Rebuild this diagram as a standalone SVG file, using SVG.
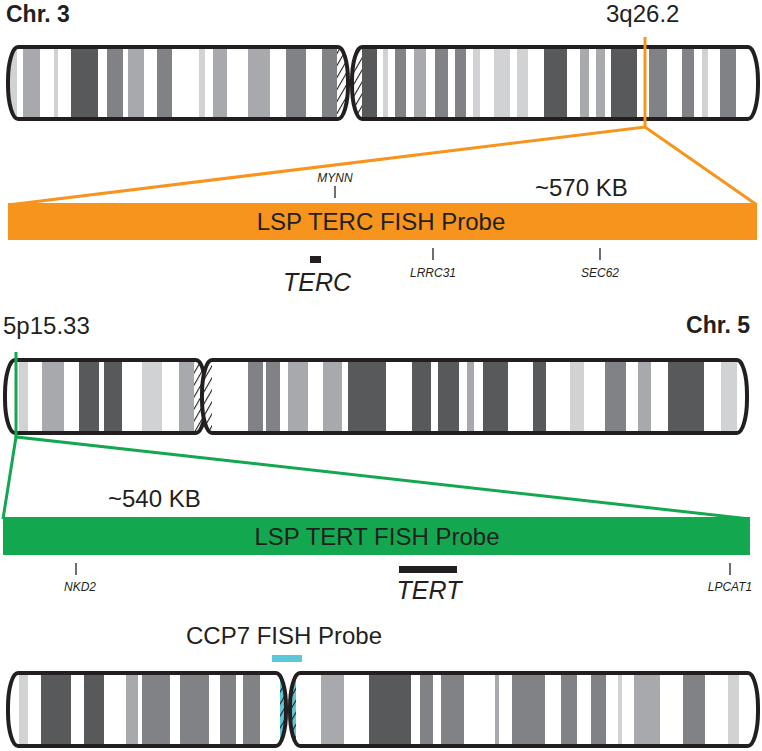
<svg xmlns="http://www.w3.org/2000/svg" width="762" height="751" viewBox="0 0 762 751">
<style>
text{font-family:"Liberation Sans",Arial,sans-serif;fill:#231f20}
.b{font-weight:bold;font-size:23px}
.g{font-size:24px}
.s{font-size:12px;font-style:italic;text-anchor:middle}
.gene{font-size:25px;font-style:italic;text-anchor:middle}
.l{fill:#d1d2d4}.m{fill:#a7a9ac}.d{fill:#808285}.k{fill:#58595b}
.arm{fill:none;stroke:#231f20;stroke-width:4}
.tick{stroke:#231f20;stroke-width:1.3}
</style>
<defs>
<pattern id="hatch" width="6" height="6" patternUnits="userSpaceOnUse" patternTransform="rotate(30)">
<rect width="6" height="6" fill="#fff"/><line x1="0" y1="0" x2="0" y2="6" stroke="#231f20" stroke-width="2.2"/>
</pattern>
<pattern id="hatchc" width="6" height="6" patternUnits="userSpaceOnUse" patternTransform="rotate(30)">
<rect width="6" height="6" fill="#5bc8d8"/><line x1="0" y1="0" x2="0" y2="6" stroke="#231f20" stroke-width="2.2"/>
</pattern>
<clipPath id="c3p"><rect x="8" y="47" width="340" height="72" rx="10" ry="34"/></clipPath>
<clipPath id="c3q"><rect x="352" y="47" width="406" height="72" rx="10" ry="34"/></clipPath>
<clipPath id="c5p"><rect x="5" y="360" width="201" height="73" rx="10" ry="34"/></clipPath>
<clipPath id="c5q"><rect x="202" y="360" width="545" height="73" rx="10" ry="34"/></clipPath>
<clipPath id="c7p"><rect x="8" y="673" width="278" height="73" rx="10" ry="34"/></clipPath>
<clipPath id="c7q"><rect x="290" y="673" width="468" height="73" rx="10" ry="34"/></clipPath>
</defs>

<g id="chr3">
<text class="b" x="6" y="22">Chr. 3</text>
<g clip-path="url(#c3p)">
<rect x="8" y="47" width="340" height="72" fill="#fff"/>
<rect class="l" x="10" y="47" width="7" height="72"/>
<rect class="m" x="23" y="47" width="17" height="72"/>
<rect class="l" x="54" y="47" width="4" height="72"/>
<rect class="k" x="71" y="47" width="27" height="72"/>
<rect class="d" x="107" y="47" width="16" height="72"/>
<rect class="m" x="128" y="47" width="16" height="72"/>
<rect class="d" x="157" y="47" width="15" height="72"/>
<rect class="l" x="199" y="47" width="6" height="72"/>
<rect class="m" x="213" y="47" width="14" height="72"/>
<rect class="m" x="248" y="47" width="22" height="72"/>
<rect class="d" x="286" y="47" width="20" height="72"/>
<rect class="d" x="322" y="47" width="15" height="72"/>
<rect x="337" y="47" width="12" height="72" fill="url(#hatch)"/>
</g>
<rect class="arm" x="8" y="47" width="340" height="72" rx="10" ry="34"/>
<g clip-path="url(#c3q)">
<rect x="352" y="47" width="406" height="72" fill="#fff"/>
<rect x="352" y="47" width="10" height="72" fill="url(#hatch)"/>
<rect class="k" x="362" y="47" width="15" height="72"/>
<rect class="l" x="383" y="47" width="5" height="72"/>
<rect class="d" x="395" y="47" width="11" height="72"/>
<rect class="m" x="414" y="47" width="12" height="72"/>
<rect class="d" x="435" y="47" width="13" height="72"/>
<rect class="d" x="455" y="47" width="11" height="72"/>
<rect class="l" x="473" y="47" width="7" height="72"/>
<rect class="l" x="494" y="47" width="16" height="72"/>
<rect class="l" x="517" y="47" width="11" height="72"/>
<rect class="k" x="544" y="47" width="23" height="72"/>
<rect class="m" x="580" y="47" width="9" height="72"/>
<rect class="m" x="596" y="47" width="9" height="72"/>
<rect class="k" x="611" y="47" width="26" height="72"/>
<rect class="d" x="649" y="47" width="18" height="72"/>
<rect class="d" x="682" y="47" width="12" height="72"/>
<rect class="l" x="702" y="47" width="6" height="72"/>
<rect class="d" x="720" y="47" width="16" height="72"/>
</g>
<rect class="arm" x="352" y="47" width="406" height="72" rx="10" ry="34"/>
</g>

<g id="terc-zoom">
<text class="g" x="606" y="22">3q26.2</text>
<polyline points="645,37 645,127" fill="none" stroke="#f7941d" stroke-width="3"/>
<polyline points="8,205 645,127 757,205" fill="none" stroke="#f7941d" stroke-width="3"/>
<rect x="8" y="203" width="749" height="37" fill="#f7941d"/>
<text class="g" x="381" y="230" text-anchor="middle">LSP TERC FISH Probe</text>
<text class="g" x="535" y="196">~570 KB</text>
<text class="s" x="335" y="182">MYNN</text>
<line class="tick" x1="335" y1="186" x2="335" y2="198"/>
<rect x="310" y="256" width="11" height="7" fill="#231f20"/>
<text class="gene" x="317" y="291">TERC</text>
<line class="tick" x1="433" y1="248" x2="433" y2="260"/>
<text class="s" x="433" y="277">LRRC31</text>
<line class="tick" x1="600" y1="248" x2="600" y2="260"/>
<text class="s" x="600" y="277">SEC62</text>
</g>

<g id="chr5">
<text class="b" x="750" y="333" text-anchor="end">Chr. 5</text>
<g clip-path="url(#c5p)">
<rect x="5" y="360" width="201" height="73" fill="#fff"/>
<rect class="l" x="19" y="360" width="9" height="73"/>
<rect class="m" x="42" y="360" width="22" height="73"/>
<rect class="k" x="79" y="360" width="20" height="73"/>
<rect class="k" x="104" y="360" width="18" height="73"/>
<rect class="l" x="142" y="360" width="20" height="73"/>
<rect class="m" x="179" y="360" width="15" height="73"/>
<rect x="194" y="360" width="12" height="73" fill="url(#hatch)"/>
</g>
<rect class="arm" x="5" y="360" width="201" height="73" rx="10" ry="34"/>
<g clip-path="url(#c5q)">
<rect x="202" y="360" width="545" height="73" fill="#fff"/>
<rect x="202" y="360" width="10" height="73" fill="url(#hatch)"/>
<rect class="d" x="248" y="360" width="15" height="73"/>
<rect class="d" x="266" y="360" width="14" height="73"/>
<rect class="m" x="288" y="360" width="20" height="73"/>
<rect class="m" x="323" y="360" width="19" height="73"/>
<rect class="k" x="348" y="360" width="38" height="73"/>
<rect class="k" x="412" y="360" width="19" height="73"/>
<rect class="k" x="438" y="360" width="21" height="73"/>
<rect class="m" x="467" y="360" width="7" height="73"/>
<rect class="k" x="483" y="360" width="25" height="73"/>
<rect class="k" x="533" y="360" width="13" height="73"/>
<rect class="l" x="570" y="360" width="14" height="73"/>
<rect class="d" x="605" y="360" width="21" height="73"/>
<rect class="m" x="638" y="360" width="13" height="73"/>
<rect class="k" x="668" y="360" width="36" height="73"/>
<rect class="l" x="721" y="360" width="16" height="73"/>
</g>
<rect class="arm" x="202" y="360" width="545" height="73" rx="10" ry="34"/>
</g>

<g id="tert-zoom">
<text class="g" x="3" y="334">5p15.33</text>
<polyline points="16,352 16,437" fill="none" stroke="#13a84f" stroke-width="3"/>
<polyline points="3,519 16,437 750,519" fill="none" stroke="#13a84f" stroke-width="3"/>
<rect x="3" y="517" width="747" height="38" fill="#13a84f"/>
<text class="g" x="377" y="545" text-anchor="middle">LSP TERT FISH Probe</text>
<text class="g" x="108" y="507">~540 KB</text>
<line class="tick" x1="76" y1="563" x2="76" y2="575"/>
<text class="s" x="80" y="591">NKD2</text>
<rect x="399" y="566" width="58" height="7" fill="#231f20"/>
<text class="gene" x="429" y="599">TERT</text>
<line class="tick" x1="730" y1="563" x2="730" y2="575"/>
<text class="s" x="730" y="591">LPCAT1</text>
</g>

<g id="chr7">
<text class="b" x="8" y="701">Chr. 7</text>
<text class="g" x="186" y="644">CCP7 FISH Probe</text>
<rect x="272" y="655" width="30" height="7" fill="#5bc8d8"/>
<g clip-path="url(#c7p)">
<rect x="8" y="673" width="278" height="73" fill="#fff"/>
<rect class="l" x="19" y="673" width="9" height="73"/>
<rect class="k" x="41" y="673" width="30" height="73"/>
<rect class="k" x="84" y="673" width="20" height="73"/>
<rect class="m" x="126" y="673" width="12" height="73"/>
<rect class="d" x="142" y="673" width="28" height="73"/>
<rect class="d" x="180" y="673" width="29" height="73"/>
<rect class="d" x="220" y="673" width="16" height="73"/>
<rect class="d" x="243" y="673" width="17" height="73"/>
<rect x="280" y="673" width="6" height="73" fill="url(#hatchc)"/>
</g>
<rect class="arm" x="8" y="673" width="278" height="73" rx="10" ry="34"/>
<g clip-path="url(#c7q)">
<rect x="290" y="673" width="468" height="73" fill="#fff"/>
<rect x="290" y="673" width="6" height="73" fill="url(#hatchc)"/>
<rect class="m" x="321" y="673" width="23" height="73"/>
<rect class="k" x="369" y="673" width="42" height="73"/>
<rect class="d" x="420" y="673" width="13" height="73"/>
<rect class="d" x="441" y="673" width="23" height="73"/>
<rect class="m" x="495" y="673" width="4" height="73"/>
<rect class="d" x="512" y="673" width="33" height="73"/>
<rect class="d" x="561" y="673" width="16" height="73"/>
<rect class="d" x="591" y="673" width="15" height="73"/>
<rect class="l" x="618" y="673" width="4" height="73"/>
<rect class="m" x="634" y="673" width="26" height="73"/>
<rect class="d" x="683" y="673" width="22" height="73"/>
<rect class="l" x="728" y="673" width="11" height="73"/>
</g>
<rect class="arm" x="290" y="673" width="468" height="73" rx="10" ry="34"/>
</g>
</svg>
